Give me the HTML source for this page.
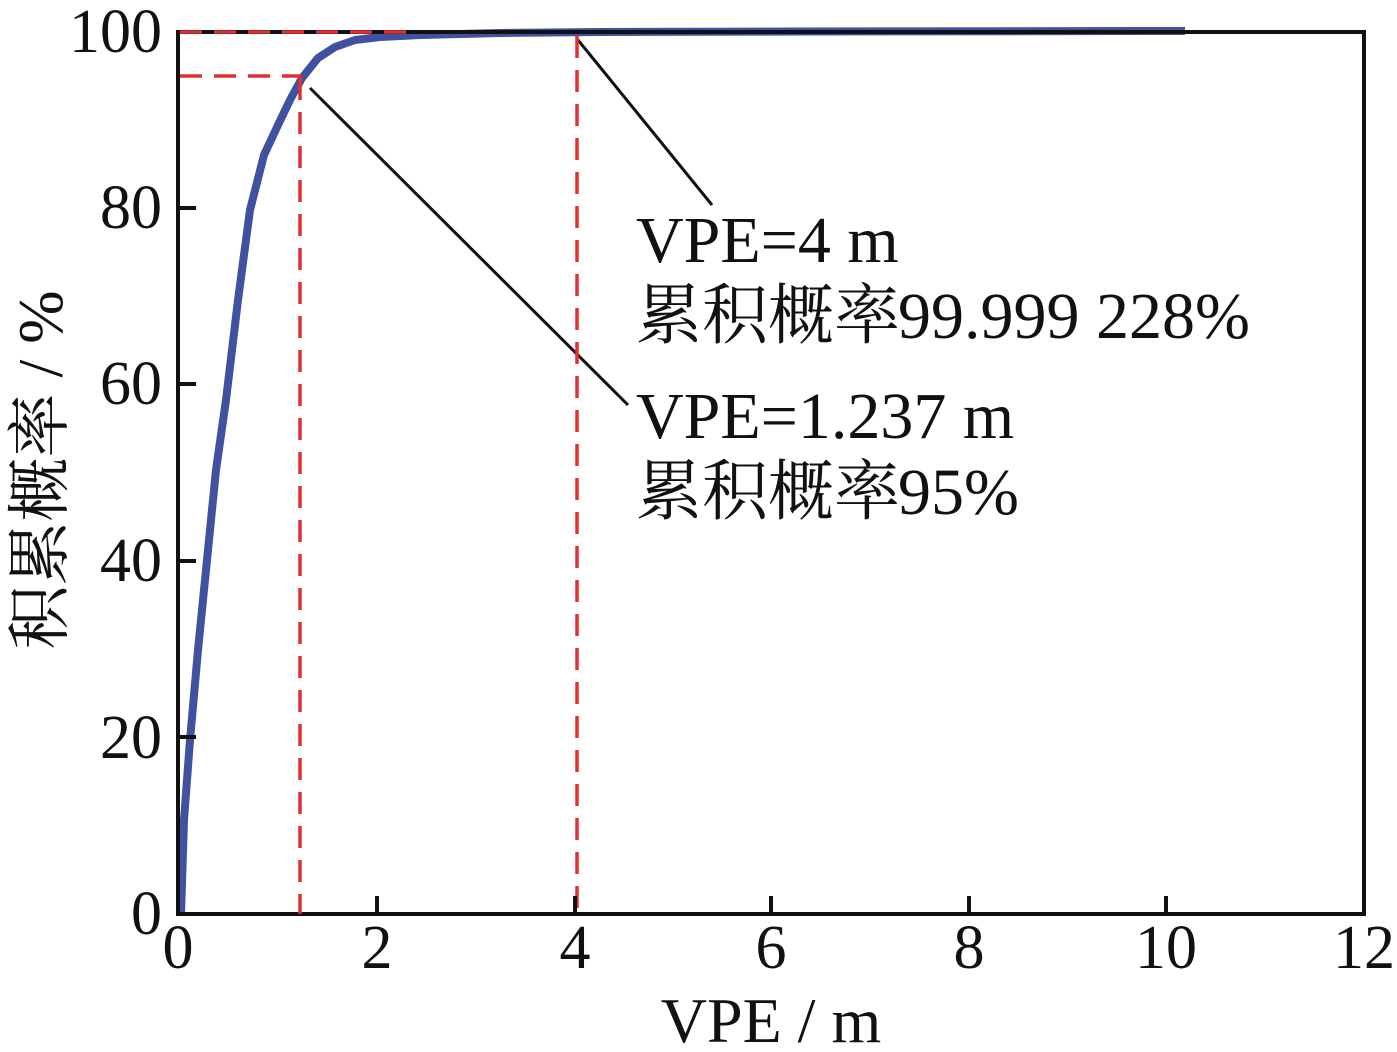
<!DOCTYPE html>
<html><head><meta charset="utf-8"><style>
html,body{margin:0;padding:0;background:#fff;}
svg text{font-family:"Liberation Serif",serif;fill:#111;}
.cj{font-family:"Noto Serif CJK SC","Noto Sans CJK SC",serif;}
.lat{font-family:"Liberation Serif",serif;}
</style></head><body>
<svg width="1397" height="1047" viewBox="0 0 1397 1047" xmlns="http://www.w3.org/2000/svg">
<polyline fill="none" stroke="#3f519f" stroke-width="8" stroke-linejoin="round" points="181,914 184,820 190,740 198,650 207,560 216,470 226,400 238,300 250,210 264,155 278,125 290,100 302,78 318,58 335,47 355,40 380,37 420,35 500,33 600,32 800,31.5 1185,31"/>
<g stroke="#111" stroke-width="3">
<line x1="578" y1="40" x2="712" y2="205"/>
<line x1="310" y1="88" x2="628" y2="405"/>
</g>
<rect x="178" y="32" width="1186" height="882" fill="none" stroke="#111" stroke-width="4"/>
<g stroke="#e03030" stroke-width="3.5" stroke-dasharray="22,12" fill="none">
<line x1="180" y1="32" x2="410" y2="32"/>
<line x1="180" y1="76" x2="302" y2="76"/>
<line x1="300" y1="78" x2="300" y2="914"/>
<line x1="577" y1="36" x2="577" y2="914"/>
</g>
<g stroke="#111" stroke-width="4">
<line x1="377" y1="914" x2="377" y2="896"/><line x1="575" y1="914" x2="575" y2="896"/>
<line x1="771" y1="914" x2="771" y2="896"/><line x1="969" y1="914" x2="969" y2="896"/>
<line x1="1166" y1="914" x2="1166" y2="896"/>
<line x1="178" y1="737" x2="196" y2="737"/><line x1="178" y1="561" x2="196" y2="561"/>
<line x1="178" y1="384" x2="196" y2="384"/><line x1="178" y1="208" x2="196" y2="208"/>
</g>
<g font-size="62" text-anchor="middle">
<text x="178" y="968">0</text><text x="377" y="968">2</text><text x="575" y="968">4</text>
<text x="771" y="968">6</text><text x="969" y="968">8</text><text x="1166" y="968">10</text><text x="1364" y="968">12</text>
</g>
<g font-size="62" text-anchor="end">
<text x="162" y="934">0</text><text x="162" y="758">20</text><text x="162" y="581">40</text>
<text x="162" y="404">60</text><text x="162" y="228">80</text><text x="162" y="52">100</text>
</g>
<text x="771" y="1042" font-size="64" text-anchor="middle">VPE / m</text>
<text transform="translate(62,470) rotate(-90)" font-size="64" text-anchor="middle"><tspan class="cj">积累概率</tspan> / %</text>
<g font-size="66">
<text x="636" y="262">VPE=4 m</text>
<text x="636" y="338" class="cj">累积概率</text>
<text x="898" y="338" class="lat">99.999 228%</text>
<text x="636" y="438">VPE=1.237 m</text>
<text x="636" y="514" class="cj">累积概率</text>
<text x="898" y="514" class="lat">95%</text>
</g>
</svg>
</body></html>
